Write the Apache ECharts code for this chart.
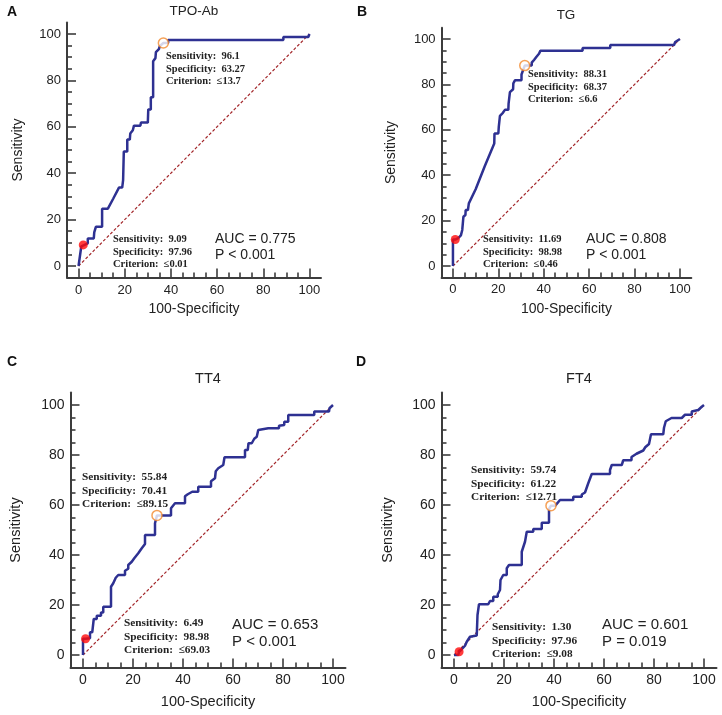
<!DOCTYPE html>
<html><head><meta charset="utf-8">
<script src="https://cdn.jsdelivr.net/npm/echarts@6/dist/echarts.min.js"></script>
<style>html,body{margin:0;padding:0;background:#fff}#c{width:722px;height:715px}</style>
</head><body><div id="c"></div>
<script>
// ---------- data ----------
const panelLetters = ['A', 'B', 'C', 'D'];
const panelTitles = ['TPO-Ab', 'TG', 'TT4', 'FT4'];
const tickValues = [0, 20, 40, 60, 80, 100];
const minorTickValues = [5, 10, 15, 25, 30, 35, 45, 50, 55, 65, 70, 75, 85, 90, 95];
const chanceLine = [[0, 0], [100, 100]];

const curveA = [[0,0],[1.2,8.5],[2.04,9.09],[4,9.8],[4,11.9],[6.6,11.9],[6.8,14.5],[7.5,16.9],[10.2,16.9],[10.2,24.7],
  [12.7,24.7],[15,29],[17.5,33.8],[18.9,33.8],[19.3,37],[19.6,49.3],[21.1,49.3],[21.1,54.5],[22.2,54.5],[22.4,57.1],
  [23.5,58.5],[24,60.5],[26.8,60.5],[27,61.8],[30,61.8],[30.2,67.5],[31.3,67.5],[31.3,72.7],[32.3,72.7],[32.3,88.3],
  [33.3,89.6],[33.5,92.2],[34.8,93.5],[35.2,94.8],[36.73,96.1],[38.8,96.1],[38.8,97.4],[88.7,97.4],[88.7,98.7],
  [99.5,98.7],[100,100]];
const curveB = [[0,0],[0,11.7],[1.02,11.69],[2.3,12.3],[3.5,13.5],[4.1,15.9],[4.6,21.7],[5.5,22.5],[5.6,24.7],[6.6,24.7],
  [7,27.6],[10,33.8],[14,44],[18.2,54],[18.3,58.4],[20,58.4],[20.2,61.4],[20.7,66.2],[22,67.5],[22.9,68.8],[24.4,68.8],
  [24.5,71.4],[25.1,76.6],[26.5,77.9],[26.6,80.5],[27.3,81.8],[30.2,81.8],[30.2,84.4],[31.63,88.31],[34.7,88.31],
  [34.7,89.6],[35.8,90.9],[36.8,92.2],[37.9,93.5],[38.5,94.8],[57.1,94.8],[57.1,96.1],[69.3,96.1],[69.3,97.4],
  [97.4,97.4],[97.9,98.7],[100,100]];
const curveC = [[0,0],[0,6.5],[1.02,6.49],[2.8,6.7],[2.8,9.1],[3.7,9.1],[4.3,14.4],[5.5,14.4],[5.5,15.7],[7.2,15.7],
  [7.2,17],[8.1,17],[8.1,19.3],[11.2,19.3],[11.2,27.3],[12.1,28.7],[13.1,30.9],[14.1,32],[16.8,32],[16.8,33.7],
  [18.1,34.5],[18.1,36],[19.5,37.3],[20.5,38.7],[22.1,40.7],[23.5,42.7],[24.8,44.4],[24.8,48],[28.8,48],[28.8,52.7],
  [29.59,55.84],[35.2,55.84],[35.2,58.7],[36.8,60.7],[40.8,60.7],[40.8,63.5],[41.9,64.3],[43.7,65.3],[46.1,65.3],
  [46.1,67.3],[51.2,67.3],[51.2,69.5],[52.8,70.7],[53.1,73.5],[54.1,74.7],[56.1,76],[56.6,79.1],[64.8,79.1],[64.8,82],
  [65.9,82],[66.2,84.7],[67.5,84.7],[68.5,86.5],[69.5,87.3],[70.1,90],[74.1,90.7],[78.4,90.7],[78.4,91.7],[80.5,92],
  [80.5,93.3],[82.1,93.3],[82.1,96],[92.5,96],[92.5,97.4],[98.4,97.4],[98.6,98.7],[100,100]];
const curveD = [[0,0],[1.7,0],[2.04,1.3],[3.1,2.3],[4.4,3.7],[5.1,5.3],[6.4,7.3],[7,7.8],[9.1,7.8],[9.4,16],[10,20.3],
  [13.7,20.3],[14.4,21.6],[15.7,21.6],[15.7,23.3],[17.5,23.3],[17.5,24.3],[18.4,26],[18.6,30],[19.7,32],[21.1,32],
  [21.1,34.7],[22,36],[27.1,36],[27.1,41.3],[27.7,41.3],[28.4,45.3],[29.1,49.3],[31.7,49.3],[31.7,50.4],[35.1,50.4],
  [35.1,52.9],[38,52.9],[38,58.4],[38.78,59.74],[40.5,59.74],[41.1,60.5],[42.4,62],[47.7,62],[47.7,63.3],[51.1,63.3],
  [51.1,64.2],[52.4,65],[53.7,68.7],[55.1,72.4],[62.4,72.4],[62.4,74],[63.1,76],[67.1,76],[67.7,77.9],[71,77.9],
  [71,79.2],[73,80.5],[75.7,81.8],[76.5,83.1],[78,84.4],[78.8,88.3],[83.7,88.3],[84,90.9],[84.7,93.5],[87,94.8],
  [91.1,94.8],[92.4,96.1],[95.1,96.1],[95.1,97.4],[97.7,98],[99.1,99.3],[100,100]];
const curves = [curveA, curveB, curveC, curveD];

// [100-Specificity, Sensitivity] of the marked cut-offs
const optimalPoints = [[36.73, 96.1], [31.63, 88.31], [29.59, 55.84], [38.78, 59.74]];
const highSpecPoints = [[2.04, 9.09], [1.02, 11.69], [1.02, 6.49], [2.04, 1.30]];
const optimalText = [['96.1', '63.27', '≤13.7'], ['88.31', '68.37', '≤6.6'], ['55.84', '70.41', '≤89.15'], ['59.74', '61.22', '≤12.71']];
const highSpecText = [['9.09', '97.96', '≤0.01'], ['11.69', '98.98', '≤0.46'], ['6.49', '98.98', '≤69.03'], ['1.30', '97.96', '≤9.08']];
const aucValues = ['0.775', '0.808', '0.653', '0.601'];
const pValues = ['P < 0.001', 'P < 0.001', 'P < 0.001', 'P = 0.019'];

// ---------- layout ----------
const SANS = '"Liberation Sans", Arial, sans-serif';
const SERIF = '"Liberation Serif", "Times New Roman", serif';
const grids = [
  {left: 67, top: 22.4, width: 254, height: 255.2},
  {left: 441.6, top: 27.7, width: 249.7, height: 249.7},
  {left: 70.5, top: 392.5, width: 275, height: 275},
  {left: 441.5, top: 392.5, width: 275, height: 275}
];
const L = [
  {fs: 13, nameFs: 14, xGap: 25, yGap: 42, title: [194, 11], letter: [7, 12], tfs: 13.5,
   up: [166, 49.6], lo: [113, 232.6], auc: [215, 231], afs: 10.5, alh: 12.8, aucFs: 14, aucLh: 16},
  {fs: 13, nameFs: 14, xGap: 25, yGap: 43, title: [566, 15], letter: [357, 12], tfs: 13.5,
   up: [528, 67.6], lo: [483, 232.6], auc: [586, 231], afs: 10.5, alh: 12.8, aucFs: 14, aucLh: 16},
  {fs: 14, nameFs: 14.5, xGap: 27, yGap: 47, title: [208, 379], letter: [7, 362], tfs: 14.5,
   up: [82, 470.2], lo: [124, 616.2], auc: [232, 616.5], afs: 11.3, alh: 13.6, aucFs: 15, aucLh: 17},
  {fs: 14, nameFs: 14.5, xGap: 27, yGap: 46, title: [579, 379], letter: [356, 362], tfs: 14.5,
   up: [471, 463.2], lo: [492, 620.2], auc: [602, 616.5], afs: 11.3, alh: 13.6, aucFs: 15, aucLh: 17}
];
const AX = '#3c3c3c';

const xAxes = [], yAxes = [], series = [], graphics = [];
grids.forEach((g, i) => {
  const l = L[i];
  const mk = (isX, major) => ({
    gridIndex: i, type: 'value', min: -5, max: 105,
    position: isX ? 'bottom' : 'left',
    name: major ? (isX ? '100-Specificity' : 'Sensitivity') : '',
    nameLocation: 'middle', nameGap: isX ? l.xGap : l.yGap,
    nameTextStyle: {fontFamily: SANS, fontSize: l.nameFs, color: '#222'},
    axisLine: {show: major, onZero: false, lineStyle: {color: AX, width: 2}},
    axisTick: {show: true, inside: true, length: major ? 9 : 5,
      customValues: major ? tickValues : minorTickValues, lineStyle: {color: AX, width: 1.6}},
    axisLabel: {show: major, customValues: tickValues, margin: 6,
      fontFamily: SANS, fontSize: l.fs, color: '#222'},
    splitLine: {show: false}
  });
  xAxes.push(mk(true, true), mk(true, false));
  yAxes.push(mk(false, true), mk(false, false));
  const ax = {xAxisIndex: 2 * i, yAxisIndex: 2 * i};
  series.push(Object.assign({type: 'line', data: chanceLine, showSymbol: false, silent: true,
    lineStyle: {color: '#A3262A', width: 1.2, type: [3, 2]}, z: 2}, ax));
  series.push(Object.assign({type: 'line', data: curves[i], showSymbol: false, silent: true,
    lineStyle: {color: '#2E3192', width: 2.5}, z: 3}, ax));
  series.push(Object.assign({type: 'scatter', data: [highSpecPoints[i]], symbolSize: 9,
    itemStyle: {color: '#FF0A0A'}, z: 4}, ax));
  series.push(Object.assign({type: 'scatter', data: [optimalPoints[i]], symbolSize: 10,
    itemStyle: {color: '#fff', borderColor: '#F28A2E', borderWidth: 1.5}, z: 4}, ax));

  const ann = (v) => 'Sensitivity:  ' + v[0] + '\nSpecificity:  ' + v[1] + '\nCriterion:  ' + v[2];
  const annStyle = (txt) => ({text: txt, fontFamily: SERIF, fontWeight: 'bold', fontSize: l.afs,
    lineHeight: l.alh, fill: '#222', verticalAlign: 'top', align: 'left'});
  graphics.push({type: 'text', x: l.up[0], y: l.up[1], z: 10, style: annStyle(ann(optimalText[i]))});
  graphics.push({type: 'text', x: l.lo[0], y: l.lo[1], z: 10, style: annStyle(ann(highSpecText[i]))});
  graphics.push({type: 'text', x: l.auc[0], y: l.auc[1], z: 10, style: {
    text: 'AUC = ' + aucValues[i] + '\n' + pValues[i], fontFamily: SANS, fontSize: l.aucFs,
    lineHeight: l.aucLh, fill: '#222', verticalAlign: 'top', align: 'left'}});
  graphics.push({type: 'text', x: l.title[0], y: l.title[1], z: 10, style: {
    text: panelTitles[i], fontFamily: SANS, fontSize: l.tfs, fill: '#222', align: 'center', verticalAlign: 'middle'}});
  graphics.push({type: 'text', x: l.letter[0], y: l.letter[1], z: 10, style: {
    text: panelLetters[i], fontFamily: SANS, fontWeight: 'bold', fontSize: 14, fill: '#111', align: 'left', verticalAlign: 'middle'}});
});

const chart = echarts.init(document.getElementById('c'), null, {renderer: 'canvas'});
chart.setOption({
  animation: false,
  backgroundColor: '#fff',
  grid: grids,
  xAxis: xAxes,
  yAxis: yAxes,
  series: series,
  graphic: graphics
});
</script></body></html>
